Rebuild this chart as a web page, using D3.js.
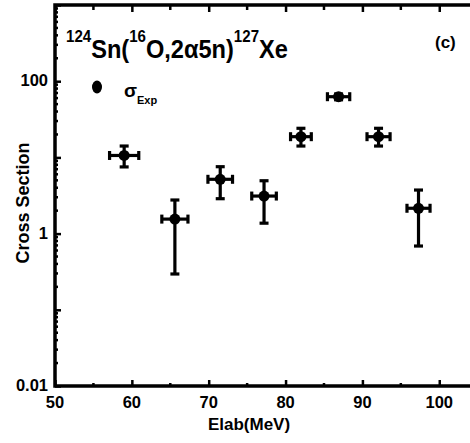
<!DOCTYPE html>
<html>
<head>
<meta charset="utf-8">
<script src="https://cdn.jsdelivr.net/npm/d3@7"></script>
<style>
  body { margin: 0; background: #fff; }
  text { font-family: "Liberation Sans", Arial, sans-serif; font-weight: bold; fill: #000; }
</style>
</head>
<body>
<svg id="svg" width="470" height="443"></svg>
<script>
// measured cross sections (mb) vs beam energy
let energy = [59.0, 65.6, 71.5, 77.2, 82.0, 86.9, 92.1, 97.3];
let energyErr = [1.9, 1.7, 1.6, 1.6, 1.35, 1.45, 1.5, 1.5];
let sigma = [10.6, 1.55, 5.16, 3.11, 18.7, 62.6, 18.7, 2.15];
let sigmaHi = [14.1, 2.76, 7.55, 4.94, 24.1, 68, 24.1, 3.73];
let sigmaLo = [7.5, 0.295, 2.87, 1.37, 14.1, 57, 14.1, 0.687];

let xTicks = [50, 60, 70, 80, 90, 100];
let xMinor = [55, 65, 75, 85, 95];
let yLabels = [0.01, 1, 100];
let yDecades = [0.01, 0.1, 1, 10, 100, 1000];

let svg = d3.select('#svg');

let x = d3.scaleLinear().domain([50, 104]).range([55, 470]);
let y = d3.scaleLog().domain([0.01, 1000]).range([386, 5]);

let data = energy.map((e, i) => ({
    e: e, de: energyErr[i], s: sigma[i], hi: sigmaHi[i], lo: sigmaLo[i]
}));

// minor ticks on log axis: 2..9 in each decade
let yMinor = [];
yDecades.slice(0, -1).forEach((d) => {
    for (let k = 2; k <= 9; k++) yMinor.push(d * k);
});

// ---- axes ----
let axisG = svg.append('g');

// bottom axis, ticks pointing inward
let bottomAxis = axisG.append('g')
    .attr('transform', 'translate(0,386)')
    .call(d3.axisBottom(x).tickValues(xTicks).tickSizeInner(-6).tickSizeOuter(0).tickFormat(''));
bottomAxis.append('g').selectAll('line').data(xMinor).join('line')
    .attr('x1', (d) => x(d)).attr('x2', (d) => x(d))
    .attr('y1', 0).attr('y2', -3);

// top axis (ticks only)
let topAxis = axisG.append('g')
    .attr('transform', 'translate(0,5)')
    .call(d3.axisTop(x).tickValues(xTicks).tickSizeInner(-7).tickSizeOuter(0).tickFormat(''));
topAxis.append('g').selectAll('line').data(xMinor).join('line')
    .attr('x1', (d) => x(d)).attr('x2', (d) => x(d))
    .attr('y1', 0).attr('y2', 5);

// left axis
let leftAxis = axisG.append('g')
    .attr('transform', 'translate(55,0)')
    .call(d3.axisLeft(y).tickValues(yDecades).tickSizeInner(-6).tickSizeOuter(0).tickFormat(''));
leftAxis.append('g').selectAll('line').data(yMinor).join('line')
    .attr('x1', 0).attr('x2', 3)
    .attr('y1', (d) => y(d)).attr('y2', (d) => y(d));

axisG.selectAll('.domain').remove();
axisG.selectAll('line').attr('stroke', '#000').attr('stroke-width', 2.5);

// tick labels drawn by hand so the bold font sticks
let labelG = svg.append('g')
    .attr('font-size', '16.5px')
    .attr('font-weight', 'bold')
    .attr('font-family', '"Liberation Sans", Arial, sans-serif');

labelG.selectAll('.xl').data(xTicks).join('text')
    .attr('class', 'xl')
    .attr('x', (d) => x(d))
    .attr('y', 408)
    .attr('text-anchor', 'middle')
    .text((d) => d);

labelG.selectAll('.yl').data(yLabels).join('text')
    .attr('class', 'yl')
    .attr('x', 48)
    .attr('y', (d) => y(d) + 5)
    .attr('text-anchor', 'end')
    .text((d) => d3.format('~g')(d));

// frame lines: left, bottom, top
axisG.append('path')
    .attr('d', 'M470,' + y(1000) + 'H' + x(50) + 'V' + y(0.01) + 'H470')
    .attr('fill', 'none')
    .attr('stroke', '#000')
    .attr('stroke-width', 3.5);

// ---- error bars and points ----
let cap = 4.5;
let pts = svg.append('g').attr('stroke', '#000').attr('stroke-width', 3.2);

data.forEach((d) => {
    let cx = x(d.e), cy = y(d.s);
    let g = pts.append('g');
    // vertical
    g.append('line').attr('x1', cx).attr('x2', cx).attr('y1', y(d.hi)).attr('y2', y(d.lo));
    g.append('line').attr('x1', cx - cap).attr('x2', cx + cap).attr('y1', y(d.hi)).attr('y2', y(d.hi));
    g.append('line').attr('x1', cx - cap).attr('x2', cx + cap).attr('y1', y(d.lo)).attr('y2', y(d.lo));
    // horizontal
    let xl = x(d.e - d.de), xr = x(d.e + d.de);
    g.append('line').attr('x1', xl).attr('x2', xr).attr('y1', cy).attr('y2', cy);
    g.append('line').attr('x1', xl).attr('x2', xl).attr('y1', cy - cap).attr('y2', cy + cap);
    g.append('line').attr('x1', xr).attr('x2', xr).attr('y1', cy - cap).attr('y2', cy + cap);
});

svg.append('g').selectAll('circle').data(data).join('circle')
    .attr('cx', (d) => x(d.e))
    .attr('cy', (d) => y(d.s))
    .attr('r', 5.5)
    .attr('fill', '#000');

// ---- labels ----
svg.append('text')
    .attr('x', 249).attr('y', 430)
    .attr('text-anchor', 'middle')
    .attr('font-size', '17px')
    .text('Elab(MeV)');

svg.append('text')
    .attr('transform', 'translate(29,203) rotate(-90)')
    .attr('text-anchor', 'middle')
    .attr('font-size', '18px')
    .text('Cross Section');

// reaction title with superscripts
let title = svg.append('text')
    .attr('x', 66).attr('y', 58)
    .attr('font-size', '25px');
let parts = [['124', true], ['Sn(', false], ['16', true], ['O,2\u03b15n)', false], ['127', true], ['Xe', false]];
parts.forEach((p) => {
    title.append('tspan')
        .attr('font-size', p[1] ? '16px' : '25px')
        .attr('y', p[1] ? 42 : 58)
        .text(p[0]);
});
// squeeze to the reference width
let tw = title.node().getComputedTextLength();
title.attr('transform', 'translate(66,0) scale(' + (222 / tw) + ',1) translate(-66,0)');

svg.append('text')
    .attr('x', 435).attr('y', 48)
    .attr('font-size', '17px')
    .text('(c)');

// legend
svg.append('ellipse')
    .attr('cx', 97).attr('cy', 87)
    .attr('rx', 5).attr('ry', 6.5)
    .attr('fill', '#000');
let leg = svg.append('text').attr('x', 124).attr('y', 97).attr('font-size', '19px');
leg.append('tspan').text('\u03c3');
leg.append('tspan').attr('font-size', '11px').attr('y', 104).text('Exp');
</script>
</body>
</html>
